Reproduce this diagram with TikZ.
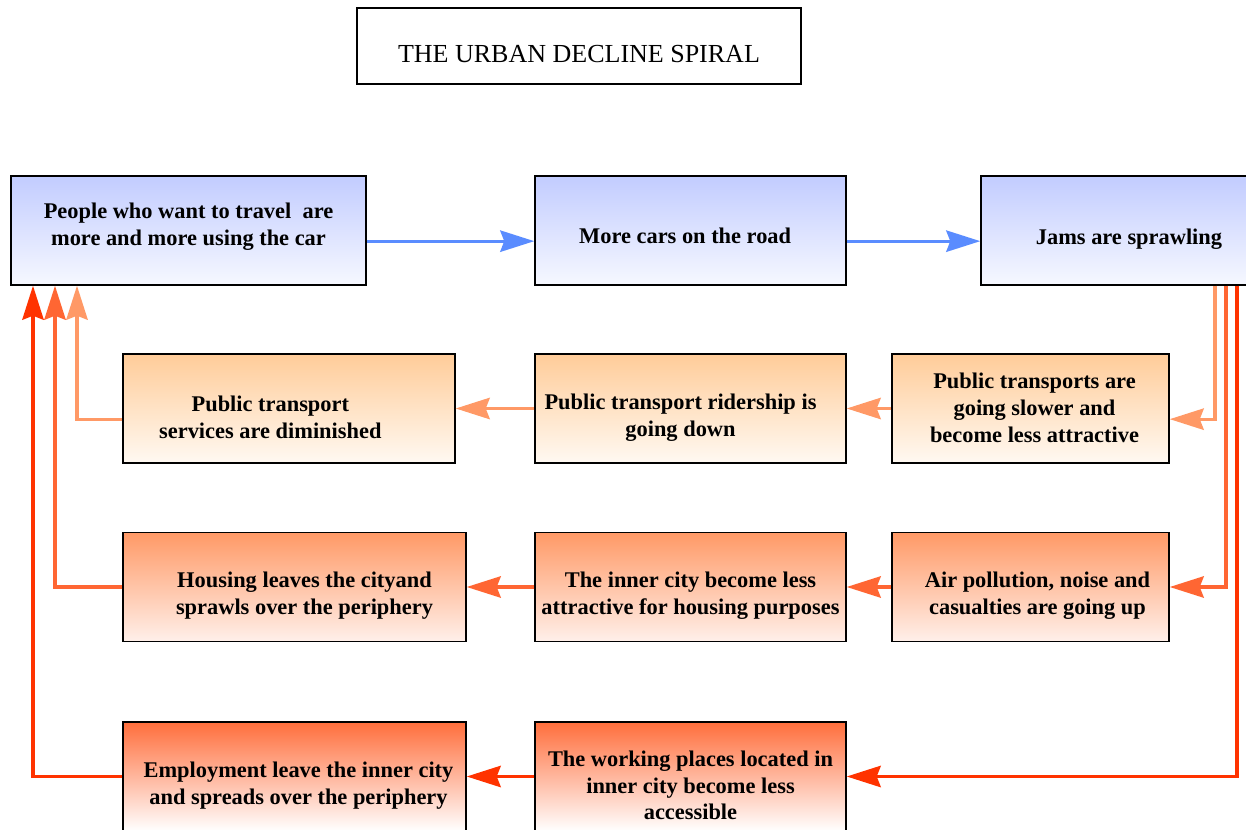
\documentclass[tikz,border=0pt]{standalone}
\usepackage{fontspec}
\setmainfont{Liberation Serif}
\usetikzlibrary{arrows.meta}
\definecolor{skyblue}{RGB}{194,204,255}
\definecolor{skypale}{RGB}{246,248,255}
\definecolor{peach}{RGB}{255,204,153}
\definecolor{peachpale}{RGB}{255,249,242}
\definecolor{salmon}{RGB}{255,153,102}
\definecolor{salmonpale}{RGB}{255,240,234}
\definecolor{coral}{RGB}{255,110,60}
\definecolor{arrowblue}{RGB}{90,140,255}
\definecolor{arrowlight}{RGB}{255,153,102}
\definecolor{arrowmid}{RGB}{255,102,51}
\definecolor{arrowred}{RGB}{255,51,0}
% pushes the text of a box down a little
\newcommand{\topgap}[1][25pt]{\rule{0pt}{#1}}
\tikzset{
  box/.style = {draw, line width=1.1pt, minimum height=81.75pt,
    align=center, inner sep=2pt,
    font=\bfseries\fontsize{16.8}{20}\selectfont},
  titlebox/.style = {draw, line width=1.1pt, minimum width=333pt,
    minimum height=57pt, font=\fontsize{19.5}{22}\selectfont},
  bluebox/.style = {top color=skyblue, bottom color=skypale},
  peachbox/.style = {top color=peach, bottom color=peachpale},
  salmonbox/.style = {top color=salmon, bottom color=salmonpale},
  coralbox/.style = {top color=coral, bottom color=white},
  flow/.style = {line width=2.4pt,
    -{Stealth[length=25.5pt,width=16pt,inset=3pt]}}
}

\begin{document}
\begin{tikzpicture}[x=0.75pt,y=-0.75pt]
  \useasboundingbox (0,0) rectangle (1246,830);
  \node[titlebox] (title) at (579,46) {\topgap THE URBAN DECLINE SPIRAL};
  % first row
  \node[box,bluebox,minimum width=266.25pt,text depth=9pt] (people) at (188.5,230.5)
    {People who want to travel\ \ are\\more and more using the car};
  \node[box,bluebox,minimum width=233.25pt] (cars) at (690.5,230.5)
    {\topgap[19pt]More cars on the road\hspace*{8pt}};
  \node[box,bluebox,minimum width=222pt] (jams) at (1129,230.5)
    {\topgap Jams are sprawling};
  % second row
  \node[box,peachbox,minimum width=249pt] (services) at (289,408.5)
    {\topgap Public transport\hspace*{28pt}\\services are diminished\hspace*{28pt}};
  \node[box,peachbox,minimum width=233.25pt] (ridership) at (690.5,408.5)
    {\topgap Public transport ridership is\hspace*{15pt}\\going down\hspace*{15pt}};
  \node[box,peachbox,minimum width=207.75pt,text depth=1pt] (slower) at (1030.5,408.5)
    {\hspace*{6pt}Public transports are\\\hspace*{6pt}going slower and\\\hspace*{6pt}become less attractive};
  % third row
  \node[box,salmonbox,minimum width=257.25pt] (housing) at (294.5,587)
    {\topgap\hspace*{15pt}Housing leaves the cityand\\\hspace*{15pt}sprawls over the periphery};
  \node[box,salmonbox,minimum width=233.25pt] (innercity) at (690.5,587)
    {\topgap The inner city become less\\attractive for housing purposes};
  \node[box,salmonbox,minimum width=207.75pt] (air) at (1030.5,587)
    {\topgap\hspace*{10.5pt}Air pollution, noise and\\\hspace*{10.5pt}casualties are going up};
  % fourth row
  \node[box,coralbox,minimum width=257.25pt] (employment) at (294.5,776.5)
    {\topgap\hspace*{6pt}Employment leave the inner city\\\hspace*{6pt}and spreads over the periphery};
  \node[box,coralbox,minimum width=233.25pt] (working) at (690.5,776.5)
    {\topgap The working places located in\\inner city become less\\accessible};
  % lanes on both sides
  \coordinate (rightA) at (1215,0);
  \coordinate (rightB) at (1226,0);
  \coordinate (rightC) at (1237,0);
  \coordinate (leftA) at (77,0);
  \coordinate (leftB) at (55,0);
  \coordinate (leftC) at (33,0);
  % car use grows
  \draw[flow,arrowblue] ([yshift=-8pt]people.east) -- ([yshift=-8pt]cars.west);
  \draw[flow,arrowblue] ([yshift=-8pt]cars.east) -- ([yshift=-8pt]jams.west);
  % down from the jams
  \draw[flow,arrowlight] (jams.south -| rightA) |- ([yshift=-8pt]slower.east);
  \draw[flow,arrowmid] (jams.south -| rightB) |- (air.east);
  \draw[flow,arrowred] (jams.south -| rightC) |- (working.east);
  % along the rows
  \draw[flow,arrowlight] (slower.west) -- (ridership.east);
  \draw[flow,arrowlight] (ridership.west) -- (services.east);
  \draw[flow,arrowmid] (air.west) -- (innercity.east);
  \draw[flow,arrowmid] (innercity.west) -- (housing.east);
  \draw[flow,arrowred] (working.west) -- (employment.east);
  % back up to the car users
  \draw[flow,arrowlight] ([yshift=-8pt]services.west) -| (people.south -| leftA);
  \draw[flow,arrowmid] (housing.west) -| (people.south -| leftB);
  \draw[flow,arrowred] (employment.west) -| (people.south -| leftC);
\end{tikzpicture}
\end{document}
